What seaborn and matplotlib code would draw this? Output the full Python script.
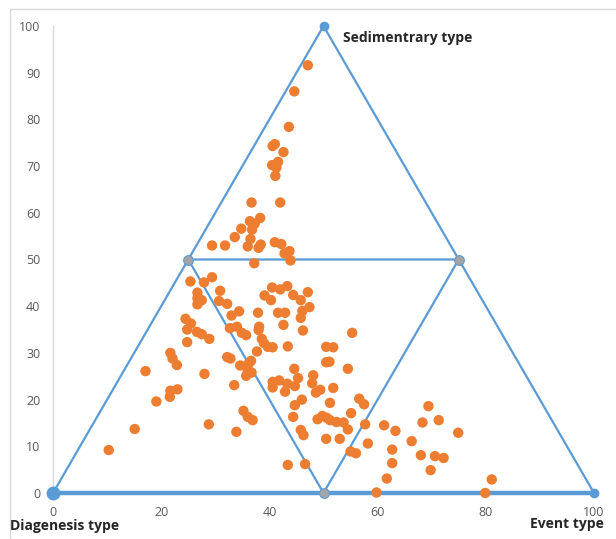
import matplotlib
matplotlib.use("Agg")
import matplotlib.pyplot as plt
import seaborn as sns
import pandas as pd
from matplotlib.patches import Rectangle

# ---- data ----
event_x = [47.1, 44.6, 43.6, 40.6, 41.0, 42.6, 40.5, 41.6, 41.3, 41.1, 36.7, 42.0, 38.3, 36.4, 37.3,
           34.8, 36.8, 33.6, 36.5, 36.0, 38.4, 38.0, 41.0, 42.2, 42.8, 43.7, 43.9, 37.2, 29.4, 31.8,
           25.4, 27.9, 29.4, 30.9, 26.7, 27.5, 26.7, 26.7, 30.7, 24.5, 25.5, 24.8, 26.6, 27.5, 28.9,
           24.8, 21.7, 22.1, 22.9, 17.1, 28.0, 21.7, 23.0, 21.6, 19.1, 28.8, 15.1, 10.3,
           32.2, 40.5, 42.0, 43.3, 39.1, 40.3, 44.4, 34.4, 33.0, 37.9, 41.6, 42.9, 42.6, 38.1, 38.0,
           32.7, 34.0, 34.9, 35.7, 38.6, 39.0, 39.7, 40.6, 43.4, 37.7, 32.2, 32.8, 36.6, 36.1, 34.6,
           36.0, 35.7, 36.7, 44.6,
           45.8, 47.1, 47.4, 46.1, 45.8, 46.2, 55.3, 50.5, 51.8, 50.5, 51.1, 54.5, 45.3, 48.1,
           40.6, 40.6, 41.8, 42.9, 43.3, 44.7, 47.9, 48.6, 49.4, 51.8, 44.7, 46.0, 51.2, 56.6, 57.5,
           44.4, 55.1, 48.9, 49.8, 50.6, 51.2, 52.4, 53.7, 54.5, 57.7, 45.8, 46.3, 50.5, 53.0, 58.2,
           55.0, 56.0, 43.4, 46.6, 59.8, 33.5, 35.2, 36.0, 36.9, 33.9,
           61.2, 63.3, 69.4, 68.3, 71.3, 74.9, 66.3, 62.7, 68.0, 70.6, 72.2, 62.7, 69.8, 61.7, 79.9, 81.1]
sed_y = [91.6, 86.0, 78.4, 74.3, 74.7, 73.0, 70.2, 70.9, 69.7, 67.9, 62.2, 62.2, 58.9, 58.2, 57.7,
         56.6, 56.4, 54.8, 54.4, 52.8, 53.2, 52.5, 53.7, 53.3, 51.3, 51.8, 49.8, 49.2, 53.0, 53.0,
         45.3, 45.1, 46.2, 43.3, 42.9, 41.3, 41.7, 40.4, 41.1, 37.3, 36.3, 35.0, 34.5, 34.0, 33.0,
         32.3, 30.0, 28.8, 27.4, 26.1, 25.5, 21.9, 22.2, 20.6, 19.6, 14.7, 13.7, 9.2,
         40.5, 44.0, 43.6, 44.3, 42.3, 41.3, 42.4, 38.9, 38.0, 38.6, 38.6, 38.6, 36.0, 35.6, 34.9,
         35.3, 35.6, 34.3, 33.8, 33.0, 32.1, 31.3, 31.2, 31.4, 30.3, 29.1, 28.8, 28.3, 27.6, 27.3,
         26.3, 25.1, 25.8, 26.6,
         41.3, 43.0, 39.8, 39.0, 37.5, 34.8, 34.3, 31.3, 31.2, 28.0, 28.1, 26.6, 24.6, 25.2,
         23.8, 22.6, 24.1, 21.7, 23.4, 22.9, 23.5, 21.5, 22.1, 22.5, 18.8, 20.0, 19.3, 20.2, 19.0,
         16.3, 17.1, 15.8, 16.5, 16.1, 15.6, 15.2, 15.1, 13.6, 14.7, 13.5, 12.4, 11.6, 11.6, 10.6,
         8.9, 8.5, 6.0, 6.2, 0.1, 23.1, 17.6, 16.3, 15.6, 13.1,
         14.5, 13.3, 18.6, 15.1, 15.6, 12.9, 11.1, 9.3, 8.1, 7.9, 7.5, 6.4, 4.9, 3.1, 0.0, 2.9]

outer_x = [0, 50, 100, 0]
outer_y = [0, 100, 0, 0]
inner_x = [25, 75, 50, 25]
inner_y = [50, 50, 0, 50]
vertex_labels = ["Sedimentrary type", "Diagenesis type", "Event type"]
x_ticks = [0, 20, 40, 60, 80, 100]
y_ticks = [0, 10, 20, 30, 40, 50, 60, 70, 80, 90, 100]

sns.set_style("white")
plt.rcParams['font.family'] = ['Open Sans', 'DejaVu Sans']

blue = "#5B9BD5"
orange = "#ED7D31"
grey = "#A5A5A5"

fig = plt.figure(figsize=(6.16, 5.39), dpi=100)
ax = fig.add_axes([53 / 616, 46 / 539, 541 / 616, 467 / 539])

# figure border (Excel chart area)
fig.patches.append(Rectangle((10 / 616, -0.1), 1.2, (539 - 9) / 539 + 0.1,
                             transform=fig.transFigure, fill=False,
                             edgecolor="#D9D9D9", lw=1.0, zorder=0))

df = pd.DataFrame({"x": event_x, "y": sed_y})

# triangle lines
ax.plot(outer_x, outer_y, color=blue, lw=1.6, zorder=2, clip_on=False)
ax.plot(outer_x[2:4], outer_y[2:4], color=blue, lw=3.2, zorder=2, clip_on=False)
ax.plot(inner_x, inner_y, color=blue, lw=1.6, zorder=2, clip_on=False)

sns.scatterplot(data=df, x="x", y="y", ax=ax, color=orange, s=56,
                edgecolor="none", zorder=3, clip_on=False, legend=False)

# vertex markers
ax.plot(outer_x[1:3], outer_y[1:3], linestyle="none", marker="o", ms=6,
        color=blue, zorder=4, clip_on=False)
ax.plot(outer_x[0:1], outer_y[0:1], linestyle="none", marker="o", ms=9,
        color=blue, zorder=4, clip_on=False)
ax.plot(inner_x[:3], inner_y[:3], linestyle="none", marker="o", ms=7,
        markerfacecolor=grey, markeredgecolor=blue, markeredgewidth=0.8,
        zorder=4, clip_on=False)

ax.set_xlim(0, 100)
ax.set_ylim(0, 100)
ax.set_xticks(x_ticks)
ax.set_yticks(y_ticks)
ax.set_xlabel("")
ax.set_ylabel("")
ax.tick_params(axis="both", length=0, labelsize=9, colors="#595959")
ax.tick_params(axis="y", pad=9)
ax.tick_params(axis="x", pad=9)
for s in ["top", "right", "bottom"]:
    ax.spines[s].set_visible(False)
ax.spines["left"].set_color("#D9D9D9")
ax.spines["left"].set_linewidth(1.0)
ax.set_facecolor("none")

tk = dict(fontsize=10, fontweight="bold", color="#262626")
ax.text(53.6, 97.4, vertex_labels[0], ha="left", va="center", **tk)
fig.text(10 / 616, 1 - 526 / 539, vertex_labels[1], ha="left", va="center", **tk)
fig.text(604 / 616, 1 - 524 / 539, vertex_labels[2], ha="right", va="center", **tk)

fig.savefig("out.png", dpi=100)
